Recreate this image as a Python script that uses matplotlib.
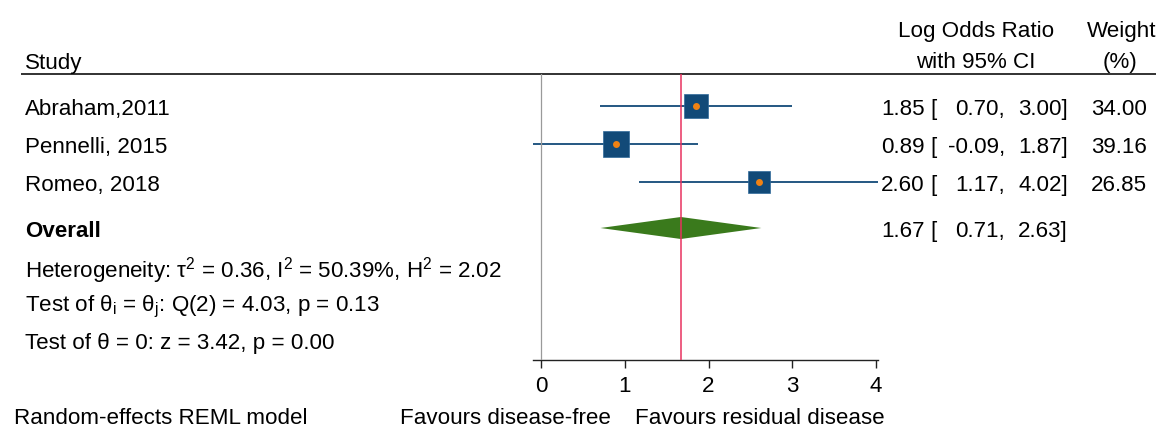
import numpy as np
import matplotlib
matplotlib.use("Agg")
import matplotlib.pyplot as plt

# ---- data ----
studies = ["Abraham,2011", "Pennelli, 2015", "Romeo, 2018"]
estimate = [1.85, 0.89, 2.60]
lower = [0.70, -0.09, 1.17]
upper = [3.00, 1.87, 4.02]
weight = [34.00, 39.16, 26.85]

overall_est = 1.67
overall_lo = 0.71
overall_hi = 2.63

xticks = [0, 1, 2, 3, 4]
het_text = "Heterogeneity: τ$^{\\mathregular{2}}$ = 0.36, I$^{\\mathregular{2}}$ = 50.39%, H$^{\\mathregular{2}}$ = 2.02"
q_text = "Test of θ$_{\\mathregular{i}}$ = θ$_{\\mathregular{j}}$: Q(2) = 4.03, p = 0.13"
z_text = "Test of θ = 0: z = 3.42, p = 0.00"
model_text = "Random-effects REML model"
favours_left = "Favours disease-free"
favours_right = "Favours residual disease"

# ---- style ----
plt.rcParams["font.family"] = ["Liberation Sans", "DejaVu Sans"]
plt.rcParams["mathtext.fontset"] = "custom"
plt.rcParams["mathtext.rm"] = "Liberation Sans"
plt.rcParams["mathtext.it"] = "Liberation Sans:italic"
plt.rcParams["mathtext.bf"] = "Liberation Sans:bold"

FS = 16.1
NAVY = "#124a78"
ORANGE = "#f08214"
GREEN = "#3a7a1c"
REFRED = "#e8325f"
GREY = "#9a9a9a"
DY = 2.5  # text vertical nudge (pixels, downward)

W, H = 1156, 431
fig = plt.figure(figsize=(W / 100, H / 100), dpi=100)

# full-figure layer in pixel units for the text columns
bg = fig.add_axes([0, 0, 1, 1])
bg.set_xlim(0, W)
bg.set_ylim(H, 0)
bg.axis("off")


def label(x, y, s, **kw):
    kw.setdefault("fontsize", FS)
    kw.setdefault("va", "center")
    bg.text(x, y + DY, s, **kw)


# forest panel geometry (pixels)
X0_PX, PPU = 541, 83.75
TOP_PX, AXIS_PX = 75, 361
row_y = [107, 145, 183]
overall_y = 229

xlo = min(lower)
xhi = max(upper)
ax = fig.add_axes([(X0_PX + xlo * PPU) / W, (H - AXIS_PX) / H,
                   (xhi - xlo) * PPU / W, (AXIS_PX - TOP_PX) / H])
ax.set_xlim(xlo, xhi)
ax.set_ylim(AXIS_PX, TOP_PX)
ax.patch.set_visible(False)
for s in ("top", "right", "left"):
    ax.spines[s].set_visible(False)
ax.spines["bottom"].set_linewidth(1.0)
ax.spines["bottom"].set_color("#222222")
ax.set_yticks([])
ax.set_xticks(xticks)
ax.set_xticklabels([str(t) for t in xticks], fontsize=FS)
ax.tick_params(axis="x", direction="out", length=6, width=1.0,
               color="#222222", pad=5)

# no-effect and overall reference lines (drawn over the marks)
ax.axvline(0, color=GREY, lw=0.9, zorder=5)
ax.axvline(overall_est, color=REFRED, lw=1.1, zorder=5)

# study CIs and weight-scaled squares
for y, e, lo, hi, w in zip(row_y, estimate, lower, upper, weight):
    ax.plot([lo, hi], [y, y], color=NAVY, lw=1.3, solid_capstyle="butt", zorder=2)
    ax.plot([e], [y], marker="s", ms=4.15 * np.sqrt(w) * 0.72, mfc=NAVY,
            mec="#2f6a9a", mew=0.5, zorder=3)
    ax.plot([e], [y], marker="o", ms=5.0, mfc=ORANGE, mec=ORANGE, mew=0, zorder=4)

# overall diamond
half_h = 11
ax.fill([overall_lo, overall_est, overall_hi, overall_est],
        [overall_y, overall_y - half_h, overall_y, overall_y + half_h],
        color=GREEN, lw=0, zorder=3)

# ---- header ----
label(25, 61, "Study", ha="left")
label(976, 29, "Log Odds Ratio", ha="center")
label(976, 60, "with 95% CI", ha="center")
label(1122, 29, "Weight", ha="center")
label(1120, 60, "(%)", ha="center")
bg.plot([21, W], [75, 75], color="#222222", lw=1.3, solid_capstyle="butt")


# ---- study rows ----
def ci_columns(y, e, lo, hi):
    label(925, y, f"{e:.2f}", ha="right")
    label(930, y, "[", ha="left")
    label(1005, y, f"{lo:.2f},", ha="right")
    label(1068, y, f"{hi:.2f}]", ha="right")


for y, name, e, lo, hi, w in zip(row_y, studies, estimate, lower, upper, weight):
    label(25, y, name, ha="left")
    ci_columns(y, e, lo, hi)
    label(1147, y, f"{w:.2f}", ha="right")

label(25, overall_y, "Overall", ha="left", fontweight="bold")
ci_columns(overall_y, overall_est, overall_lo, overall_hi)

# ---- statistics ----
label(25, 268, het_text, ha="left")
label(25, 304, q_text, ha="left")
label(25, 341, z_text, ha="left")

# ---- footer ----
label(505, 416, favours_left, ha="center")
label(760, 416, favours_right, ha="center")
label(14, 416.5, model_text, ha="left")

fig.savefig("out.png", dpi=100, facecolor="white")
